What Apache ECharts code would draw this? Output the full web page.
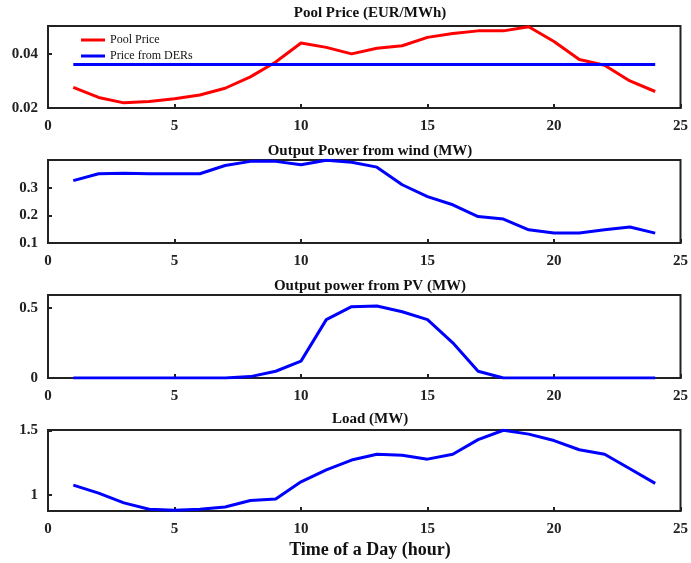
<!DOCTYPE html>
<html><head><meta charset="utf-8">
<script src="https://cdn.jsdelivr.net/npm/echarts@6/dist/echarts.min.js"></script>
<style>html,body{margin:0;padding:0;background:#fff}#c{width:691px;height:563px}</style>
</head><body><div id="c"></div>
<script>
const hours = [1,2,3,4,5,6,7,8,9,10,11,12,13,14,15,16,17,18,19,20,21,22,23,24];
const poolPrice = [0.0276,0.0239,0.0219,0.0224,0.0234,0.0248,0.0273,0.0315,0.0370,0.0440,0.0424,0.0400,0.0421,0.0430,0.0461,0.0475,0.0485,0.0485,0.0500,0.0446,0.0379,0.0358,0.0300,0.0261];
const derPrice = [0.0361,0.0361,0.0361,0.0361,0.0361,0.0361,0.0361,0.0361,0.0361,0.0361,0.0361,0.0361,0.0361,0.0361,0.0361,0.0361,0.0361,0.0361,0.0361,0.0361,0.0361,0.0361,0.0361,0.0361];
const windPower = [0.327,0.352,0.354,0.352,0.352,0.352,0.382,0.397,0.397,0.385,0.401,0.394,0.376,0.312,0.269,0.239,0.196,0.187,0.148,0.136,0.136,0.148,0.158,0.136];
const pvPower = [0,0,0,0,0,0,0,0.01,0.048,0.12,0.415,0.507,0.512,0.471,0.415,0.25,0.048,0,0,0,0,0,0,0];
const load = [1.075,1.013,0.937,0.887,0.880,0.887,0.905,0.955,0.967,1.100,1.193,1.269,1.314,1.306,1.276,1.314,1.427,1.500,1.470,1.420,1.349,1.314,1.201,1.088];

const titles = ['Pool Price (EUR/MWh)','Output Power from wind (MW)','Output power from PV (MW)','Load (MW)'];
const xTicks = [0,5,10,15,20,25];
const yTicks = [[0.02,0.04],[0.1,0.2,0.3],[0,0.5],[1,1.5]];
const yRange = [[0.02,0.0503],[0.1,0.402],[0,0.59],[0.874,1.502]];
const xTitle = 'Time of a Day (hour)';

const FONT = '"Liberation Serif","Times New Roman",serif';
const grids = [
  {left:48,right:9,top:26,height:82},
  {left:48,right:9,top:160,height:83},
  {left:48,right:9,top:295,height:83},
  {left:48,right:9,top:430,height:81}
].map(g => Object.assign(g,{show:true,borderColor:'#222',borderWidth:2,containLabel:false}));

const titleTops = [1,139,274,407];
const axisLineStyle = {color:'#222',width:2};
const labelStyle = {fontFamily:FONT,fontWeight:'bold',fontSize:15,color:'#222'};

const xAxes = grids.map((g,i)=>({
  type:'value',gridIndex:i,min:0,max:25,interval:5,
  axisLine:{show:true,onZero:false,lineStyle:axisLineStyle},
  axisTick:{show:true,inside:true,length:4,lineStyle:axisLineStyle,customValues:xTicks},
  axisLabel:Object.assign({margin:11,customValues:xTicks},labelStyle),
  splitLine:{show:false}
}));
const yAxes = grids.map((g,i)=>({
  type:'value',gridIndex:i,min:yRange[i][0],max:yRange[i][1],
  axisLine:{show:true,onZero:false,lineStyle:axisLineStyle},
  axisTick:{show:true,inside:true,length:4,lineStyle:axisLineStyle,customValues:yTicks[i]},
  axisLabel:Object.assign({margin:10,customValues:yTicks[i],formatter:v=>String(+v.toFixed(4))},labelStyle),
  splitLine:{show:false}
}));

function pairs(ys){return hours.map((h,k)=>[h,ys[k]]);}
function line(name,ys,color,idx){
  return {name:name,type:'line',xAxisIndex:idx,yAxisIndex:idx,data:pairs(ys),symbol:'none',
    lineStyle:{color:color,width:3},itemStyle:{color:color},z:3,animation:false};
}

const option = {
  animation:false,
  backgroundColor:'#fff',
  title: titles.map((t,i)=>({text:t,left:365,top:titleTops[i],textAlign:'center',
      textStyle:{fontFamily:FONT,fontWeight:'bold',fontSize:15,color:'#111'}}))
    .concat([{text:xTitle,left:365,top:536,textAlign:'center',
      textStyle:{fontFamily:FONT,fontWeight:'bold',fontSize:18,color:'#111'}}]),
  legend:{data:['Pool Price','Price from DERs'],orient:'vertical',left:76,top:29,itemWidth:24,itemHeight:3,
    itemGap:4,icon:'rect',textStyle:{fontFamily:FONT,fontSize:12,color:'#111'}},
  grid:grids,
  xAxis:xAxes,
  yAxis:yAxes,
  series:[
    line('Pool Price',poolPrice,'#ff0000',0),
    line('Price from DERs',derPrice,'#0000ff',0),
    line('wind',windPower,'#0000ff',1),
    line('pv',pvPower,'#0000ff',2),
    line('load',load,'#0000ff',3)
  ]
};
echarts.init(document.getElementById('c')).setOption(option);
</script></body></html>
